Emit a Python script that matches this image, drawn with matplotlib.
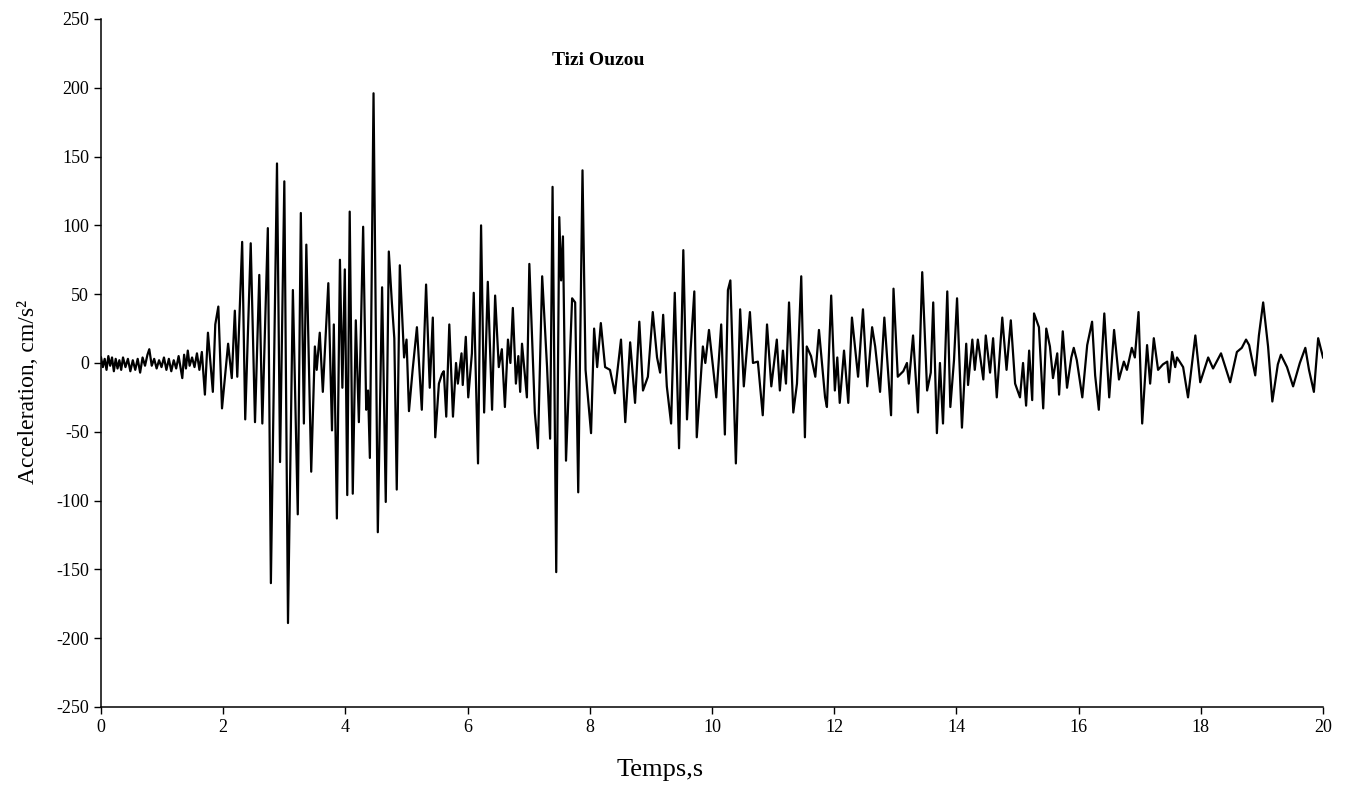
import matplotlib
matplotlib.use("Agg")
import matplotlib.pyplot as plt

# accelerogram (peaks and troughs)
time_s = [
    0.00, 0.03, 0.06, 0.09, 0.12, 0.15, 0.18, 0.21, 0.24, 0.27, 0.30, 0.33,
    0.36, 0.40, 0.44, 0.48, 0.52, 0.56, 0.60, 0.64, 0.68, 0.72, 0.76, 0.79,
    0.83, 0.87, 0.91, 0.95, 0.99, 1.03, 1.07, 1.11, 1.15, 1.19, 1.23, 1.27,
    1.30, 1.33, 1.36, 1.39, 1.42, 1.45, 1.49, 1.53, 1.57, 1.61, 1.65, 1.70,
    1.75, 1.83, 1.87, 1.92, 1.98, 2.08, 2.14, 2.19, 2.23, 2.31, 2.36, 2.45,
    2.52, 2.59, 2.64, 2.73, 2.78, 2.88, 2.93, 3.00, 3.06, 3.14, 3.22, 3.27,
    3.32, 3.36, 3.44, 3.50, 3.53, 3.58, 3.63, 3.72, 3.78, 3.81, 3.86, 3.91,
    3.95, 3.99, 4.03, 4.07, 4.12, 4.17, 4.22, 4.29, 4.34, 4.37, 4.40, 4.46,
    4.53, 4.60, 4.66, 4.71, 4.76, 4.80, 4.84, 4.89, 4.96, 5.00, 5.04, 5.10,
    5.17, 5.25, 5.32, 5.38, 5.43, 5.47, 5.53, 5.58, 5.61, 5.65, 5.70, 5.76,
    5.81, 5.84, 5.90, 5.92, 5.97, 6.01, 6.07, 6.10, 6.17, 6.22, 6.27, 6.33,
    6.40, 6.45, 6.51, 6.56, 6.61, 6.66, 6.70, 6.74, 6.79, 6.83, 6.86, 6.89,
    6.97, 7.01, 7.10, 7.15, 7.22, 7.30, 7.35, 7.39, 7.45, 7.50, 7.53, 7.56,
    7.61, 7.71, 7.76, 7.81, 7.88, 7.93, 8.02, 8.07, 8.12, 8.18, 8.25, 8.33,
    8.41, 8.51, 8.58, 8.66, 8.74, 8.81, 8.87, 8.95, 9.03, 9.10, 9.15, 9.20,
    9.26, 9.33, 9.39, 9.46, 9.53, 9.59, 9.65, 9.71, 9.75, 9.85, 9.89, 9.95,
    10.07, 10.15, 10.21, 10.26, 10.30, 10.39, 10.46, 10.52, 10.62, 10.67,
    10.75, 10.83, 10.90, 10.97, 11.06, 11.11, 11.16, 11.21, 11.26, 11.33,
    11.39, 11.46, 11.52, 11.55, 11.62, 11.69, 11.75, 11.85, 11.88, 11.95,
    12.01, 12.05, 12.09, 12.16, 12.23, 12.29, 12.39, 12.47, 12.54, 12.62,
    12.67, 12.75, 12.82, 12.93, 12.97, 13.04, 13.13, 13.19, 13.22, 13.29,
    13.37, 13.44, 13.52, 13.58, 13.62, 13.68, 13.73, 13.78, 13.85, 13.90,
    13.96, 14.01, 14.09, 14.16, 14.19, 14.26, 14.30, 14.35, 14.44, 14.48,
    14.55, 14.60, 14.66, 14.75, 14.82, 14.89, 14.96, 15.04, 15.09, 15.14,
    15.19, 15.24, 15.27, 15.35, 15.42, 15.47, 15.53, 15.58, 15.65, 15.68,
    15.74, 15.81, 15.88, 15.92, 15.97, 16.06, 16.14, 16.22, 16.27, 16.33,
    16.42, 16.50, 16.58, 16.66, 16.74, 16.79, 16.87, 16.92, 16.98, 17.04,
    17.12, 17.17, 17.23, 17.30, 17.38, 17.45, 17.48, 17.53, 17.58, 17.61,
    17.71, 17.79, 17.91, 17.99, 18.12, 18.20, 18.33, 18.48, 18.59, 18.67,
    18.74, 18.79, 18.89, 18.95, 19.02, 19.10, 19.17, 19.26, 19.31, 19.41,
    19.51, 19.62, 19.71, 19.77, 19.85, 19.92, 20.00,
]
accel = [
    4, -3, 3, -5, 5, -2, 4, -6, 3, -4, 2, -5,
    4, -3, 3, -6, 2, -5, 3, -7, 4, -2, 6, 10,
    -2, 3, -4, 2, -3, 4, -5, 3, -6, 2, -4, 5,
    -3, -11, 6, -4, 9, -2, 4, -3, 7, -5, 8, -23,
    22, -21, 28, 41, -33, 14, -11, 38, -10, 88, -41, 87,
    -43, 64, -44, 98, -160, 145, -72, 132, -189, 53, -110, 109,
    -44, 86, -79, 12, -5, 22, -21, 58, -49, 28, -113, 75,
    -18, 68, -96, 110, -95, 31, -43, 99, -34, -20, -69, 196,
    -123, 55, -101, 81, 44, 18, -92, 71, 4, 17, -35, -5,
    26, -34, 57, -18, 33, -54, -15, -8, -6, -39, 28, -39,
    0, -15, 7, -16, 19, -25, 7, 51, -73, 100, -36, 59,
    -34, 49, -3, 10, -32, 17, 0, 40, -15, 5, -21, 14,
    -25, 72, -36, -62, 63, -3, -55, 128, -152, 106, 60, 92,
    -71, 47, 44, -94, 140, -5, -51, 25, -3, 29, -3, -5,
    -22, 17, -43, 15, -29, 30, -20, -10, 37, 4, -7, 35,
    -17, -44, 51, -62, 82, -41, 10, 52, -54, 12, 0, 24,
    -25, 28, -52, 53, 60, -73, 39, -17, 37, 0,
    1, -38, 28, -17, 17, -20, 9, -15, 44, -36,
    -15, 63, -54, 12, 5, -10, 24, -25, -32, 49,
    -20, 4, -29, 9, -29, 33, -10, 39, -17, 26,
    12, -21, 33, -38, 54, -10, -6, 0, -15, 20,
    -36, 66, -20, -7, 44, -51, 0, -44, 52, -32,
    2, 47, -47, 14, -16, 17, -5, 17, -12, 20,
    -7, 18, -25, 33, -5, 31, -15, -25, 0, -31,
    9, -27, 36, 26, -33, 25, 12, -11, 7, -23,
    23, -18, 4, 11, 2, -25, 13, 30, -9, -34,
    36, -25, 24, -12, 1, -5, 11, 4, 37, -44,
    13, -15, 18, -5, -1, 1, -14, 8, -3, 4,
    -3, -25, 20, -14, 4, -4, 7, -14, 8, 11,
    17, 13, -9, 20, 44, 12, -28, -1, 6, -3,
    -17, 0, 11, -5, -21, 18, 4,
]

title = "Tizi Ouzou"
x_ticks = [0, 2, 4, 6, 8, 10, 12, 14, 16, 18, 20]
y_ticks = [-250, -200, -150, -100, -50, 0, 50, 100, 150, 200, 250]

plt.rcParams["font.family"] = ["Liberation Serif", "DejaVu Serif"]
plt.rcParams["axes.unicode_minus"] = False

fig = plt.figure(figsize=(13.56, 7.94), dpi=100)
ax = fig.add_axes([0.0745, 0.1096, 0.9012, 0.8665])

ax.plot(time_s, accel, color="black", linewidth=1.6)

ax.set_xlim(0, 20)
ax.set_ylim(-250, 250)
ax.set_xticks(x_ticks)
ax.set_yticks(y_ticks)
ax.tick_params(direction="out", length=5, width=1, labelsize=13, colors="black")
ax.spines["top"].set_visible(False)
ax.spines["right"].set_visible(False)
for side in ("left", "bottom"):
    ax.spines[side].set_linewidth(1.1)

ax.text(0.407, 0.94, title, transform=ax.transAxes, ha="center", va="center",
        fontsize=14, fontweight="bold")
fig.text(0.487, 0.03, "Temps,s", ha="center", va="center", fontsize=19)
fig.text(0.021, 0.506, "Acceleration, cm/s²", ha="center", va="center",
         rotation=90, fontsize=17)

fig.savefig("out.png", dpi=100)
